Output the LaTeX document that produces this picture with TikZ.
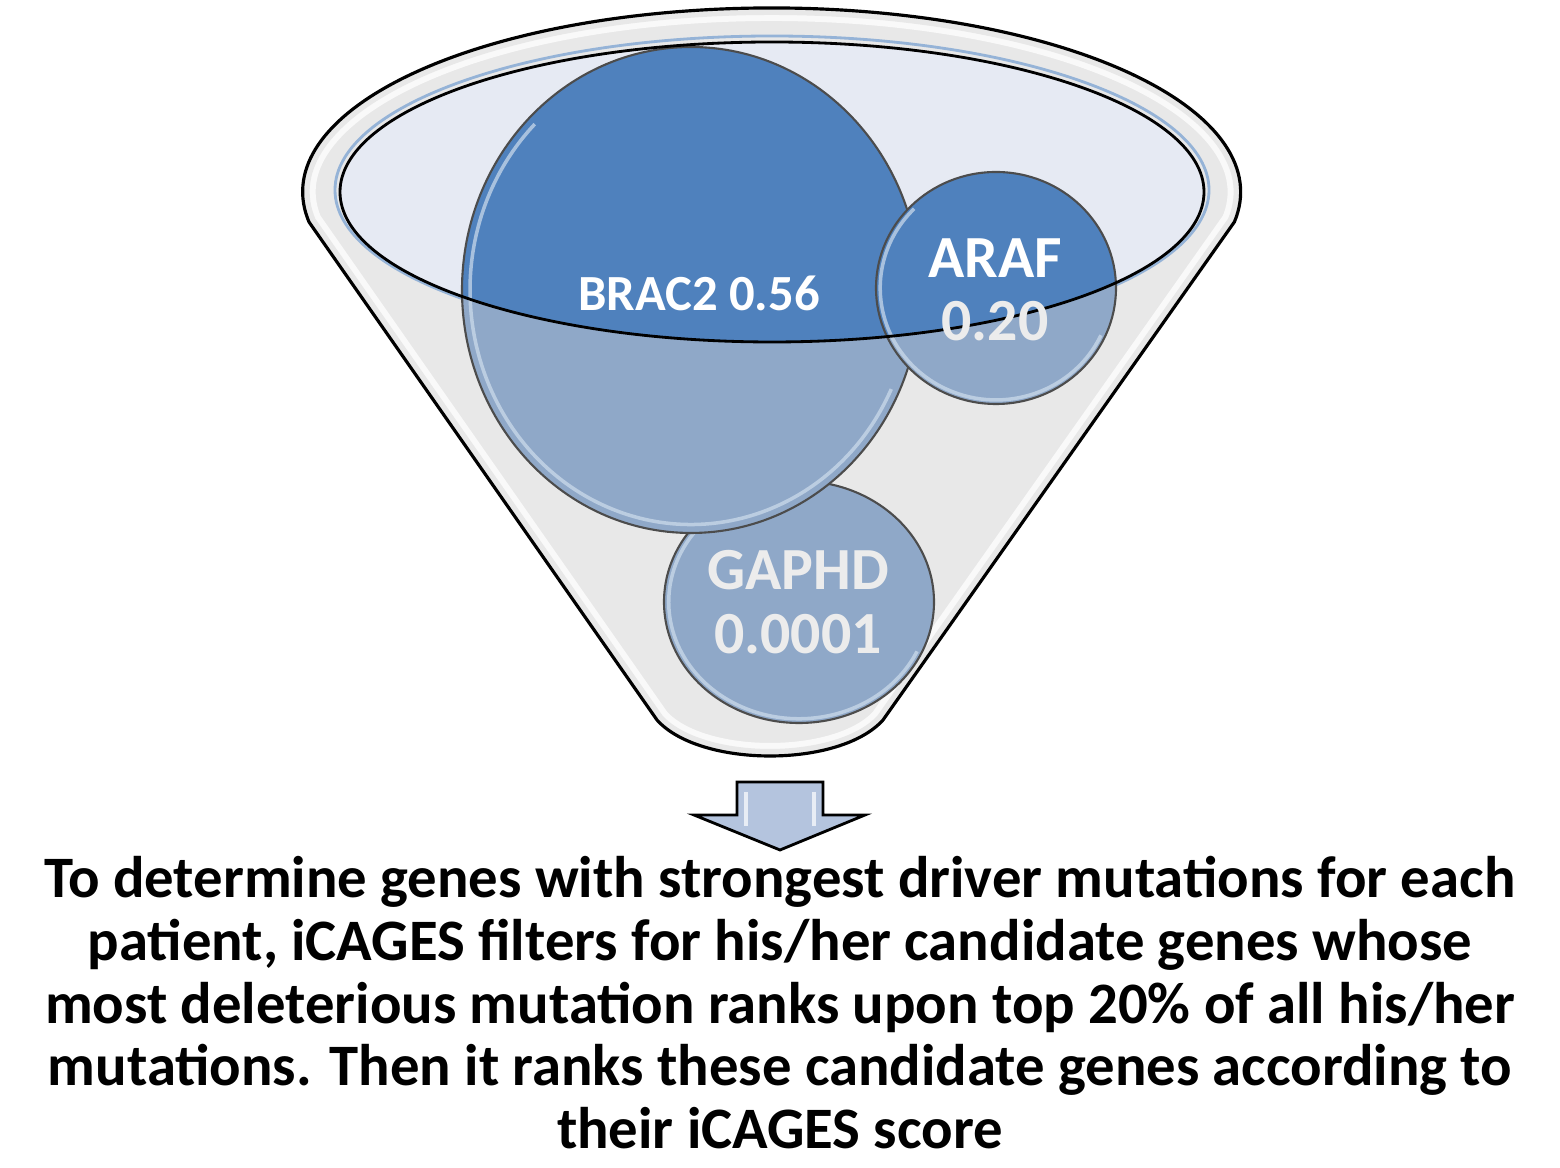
\documentclass[tikz,border=0pt]{standalone}
\usepackage{fontspec}
\setmainfont{Carlito}
\usepackage{tikz}
\usetikzlibrary{calc}
\definecolor{RimGray}{RGB}{232,232,232}
\definecolor{MouthBlue}{RGB}{230,234,243}
\definecolor{BallBlue}{RGB}{79,129,189}
\definecolor{BallPale}{RGB}{143,168,200}
\definecolor{EdgeBlue}{RGB}{149,179,215}
\definecolor{ArrowBlue}{RGB}{180,196,222}
\definecolor{TextGray}{RGB}{236,236,236}

\begin{document}
\begin{tikzpicture}[x=0.01cm, y=-0.01cm]
		\useasboundingbox (0,0) rectangle (1560,1168);
		
		% 漏斗外壳
		\fill[RimGray] (657,720) -- (309,222) arc[start angle=170.6, end angle=369.4, x radius=469, y radius=184] -- (883,720) .. controls (840,768) and (700,768) .. cycle;
		\begin{scope}
			\clip (657,720) -- (309,222) arc[start angle=170.6, end angle=369.4, x radius=469, y radius=184] -- (883,720) .. controls (840,768) and (700,768) .. cycle;
			\draw[white, line width=7.4pt, opacity=.75] (657,720) -- (309,222) arc[start angle=170.6, end angle=369.4, x radius=469, y radius=184] -- (883,720) .. controls (840,768) and (700,768) .. cycle;
			\draw[RimGray, line width=4pt] (657,720) -- (309,222) arc[start angle=170.6, end angle=369.4, x radius=469, y radius=184] -- (883,720) .. controls (840,768) and (700,768) .. cycle;
		\end{scope}
		\draw[line width=0.9pt] (657,720) -- (309,222) arc[start angle=170.6, end angle=369.4, x radius=469, y radius=184] -- (883,720) .. controls (840,768) and (700,768) .. cycle;
		
		% 漏斗口
		\draw[EdgeBlue, line width=0.8pt] (772,190) ellipse [x radius=437, y radius=154];
		\fill[MouthBlue] (772,192) ellipse [x radius=432, y radius=150];
		
		% 三个球 (GAPHD, BRAC2, ARAF)
		\foreach \cx/\cy/\rx/\ry in {799/602/135/121, 691/290/229/243, 996/288/120/116} {
			\fill[BallPale] (\cx,\cy) ellipse [x radius=\rx, y radius=\ry];
			\begin{scope}
				\clip (772,192) ellipse [x radius=432, y radius=150];
				\fill[BallBlue] (\cx,\cy) ellipse [x radius=\rx, y radius=\ry];
			\end{scope}
			\draw[white!55!EdgeBlue, line width=1pt, opacity=.7] ({\cx+0.965*\rx*cos(25)},{\cy+0.965*\ry*sin(25)}) arc[start angle=25, end angle=225, x radius={0.965*\rx}, y radius={0.965*\ry}];
			\draw[black!70, line width=0.6pt] (\cx,\cy) ellipse [x radius=\rx, y radius=\ry];
		}
		\draw[line width=0.8pt] (772,192) ellipse [x radius=432, y radius=150];
		
		% 文字
		\node[font=\bfseries\fontsize{14.4}{16}\selectfont, text=white] (brac) at (699,293) {BRAC2 0.56};
		\node[font=\bfseries\fontsize{17}{18}\selectfont, text=white, align=center] (araf) at (995,290) {ARAF\\\textcolor{TextGray}{0.20}};
		\node[font=\bfseries\fontsize{17}{18}\selectfont, text=TextGray, align=center] (gaphd) at (798,602) {GAPHD\\0.0001};
		
		% 箭头
		\draw[fill=ArrowBlue, line width=0.8pt] (737,782) -- (823,782) -- (823,815) -- (865,815) -- (780,850) coordinate (tip) -- (694,815) -- (737,815) -- cycle;
		\draw[white, line width=1.2pt, opacity=.7] (746,792) -- (746,826) (814,792) -- (814,826);
		
		\node[font=\bfseries\fontsize{16.7}{17.8}\selectfont, align=center, anchor=north, inner sep=0] (caption) at (780,856) {To determine genes with strongest driver mutations for each\\patient, iCAGES filters for his/her candidate genes whose\\most deleterious mutation ranks upon top 20\% of all his/her\\mutations. Then it ranks these candidate genes according to\\their iCAGES score};
	\end{tikzpicture}
\end{document}
